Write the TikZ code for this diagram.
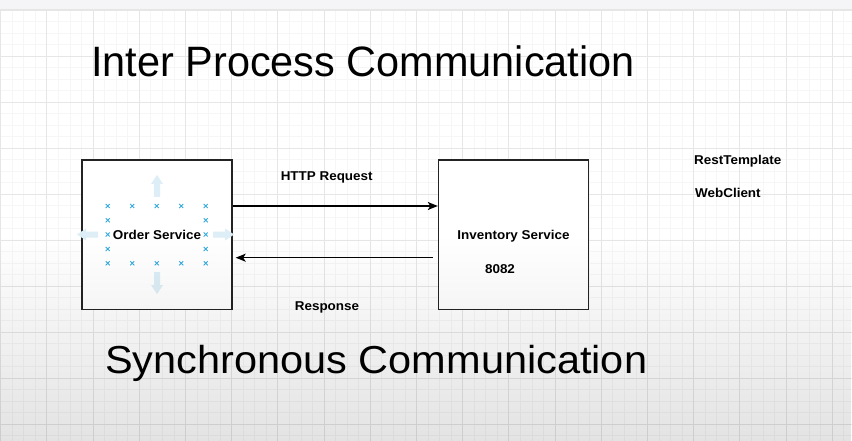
\documentclass[tikz,border=0pt]{standalone}
\usepackage{fontspec}
\setmainfont{Liberation Sans}
\usetikzlibrary{arrows.meta,calc,fadings}
\definecolor{hblue}{RGB}{52,170,222}
\definecolor{hoverc}{RGB}{221,238,246}
\definecolor{gmajor}{RGB}{230,230,230}
\definecolor{gminor}{RGB}{246,246,246}
\definecolor{topbar}{RGB}{245,245,247}
\definecolor{boxline}{RGB}{35,35,35}
\tikzfading[name=fadeup, top color=transparent!100, bottom color=transparent!0]
\newcommand\sx[2]{\scalebox{#1}[1]{#2}}
\newcommand\hmark[2]{\draw[handle, shift={(#1,#2)}] (-2,-2) -- (2,2) (-2,2) -- (2,-2);}
\tikzset{
  lbl/.style={font=\bfseries\fontsize{12.8}{15}\selectfont, inner sep=0pt},
  box/.style={lbl, draw=boxline, line width=1.4pt, fill=white, minimum width=150pt, minimum height=149pt, text depth=0pt},
  bigA/.style={font=\fontsize{42.5}{50}\selectfont, inner sep=0pt},
  bigB/.style={font=\fontsize{39}{46}\selectfont, inner sep=0pt},
  conn/.style={line width=1.2pt, -{Stealth[length=10pt,width=8pt,inset=2.5pt]}},
  handle/.style={draw=hblue, line width=0.9pt},
  hoverarrow/.style={fill=hoverc},
  minorline/.style={draw=gminor, line width=0.5pt},
  majorline/.style={draw=gmajor, line width=0.8pt}
}
\begin{document}
\begin{tikzpicture}[x=1pt,y=-1pt]
\useasboundingbox (0,0) rectangle (852,441);
\fill[white] (0,0) rectangle (852,441);
% grid
\foreach \i in {0,...,74} \draw[minorline] ({0.5+\i*11.55},9.5) -- ({0.5+\i*11.55},441);
\foreach \j in {0,...,38} \draw[minorline] (0,{10+\j*11.5}) -- (852,{10+\j*11.5});
\foreach \i in {0,...,18} \draw[majorline] ({0.5+\i*46.2},9.5) -- ({0.5+\i*46.2},441);
\foreach \j in {0,...,9} \draw[majorline] (0,{10+\j*46}) -- (852,{10+\j*46});
% top bar
\fill[topbar] (0,0) rectangle (852,9);
\draw[gmajor, line width=1pt] (0,9.5) -- (852,9.5);

% boxes
\node[box] (order) at (157,234.7) {};
\node[box] (inv) at (513.5,234.7) {\sx{1.05}{Inventory Service}};

% hover arrows around the selected shape
\fill[hoverarrow] (157,175) -- (163,184) -- (160,184) -- (160,197) -- (154,197) -- (154,184) -- (151,184) -- cycle;
\fill[hoverarrow] (157,294) -- (163,285) -- (160,285) -- (160,272) -- (154,272) -- (154,285) -- (151,285) -- cycle;
\fill[hoverarrow] (77,234.5) -- (86,228.5) -- (86,231.5) -- (98,231.5) -- (98,237.5) -- (86,237.5) -- (86,240.5) -- cycle;
\fill[hoverarrow] (234,234.5) -- (225,228.5) -- (225,231.5) -- (213,231.5) -- (213,237.5) -- (225,237.5) -- (225,240.5) -- cycle;

% selection handles
\foreach \x in {107.7,132.2,156.7,181.2,205.7} {\hmark{\x}{206}\hmark{\x}{263.3}}
\foreach \y in {220.3,234.5,249} {\hmark{107.7}{\y}\hmark{205.7}{\y}}

\node[lbl] (ordertxt) at (order.center) [text depth=0pt] {\sx{1.05}{Order Service}};

% connectors
\draw[conn] ($(order.east)+(0,-28.7)$) -- ($(inv.west)+(0,-28.7)$);
\draw[conn] ($(inv.west)+(-5,23)$) -- ($(order.east)+(3,23)$);

% labels
\node[lbl, anchor=base] (port) at (500,273.3) {\sx{1.05}{8082}};
\node[lbl, anchor=base] (httplbl) at (326.7,181) {\sx{1.05}{HTTP Request}};
\node[lbl, anchor=base] (resplbl) at (327,310.7) {\sx{1.05}{Response}};
\node[lbl, anchor=base west] (rt) at (694,164.3) {\sx{1.05}{RestTemplate}};
\node[lbl, anchor=base west] (wc) at (695,197.3) {\sx{1.05}{WebClient}};
\node[bigA, anchor=base west] (title) at (91,76.7) {\sx{0.975}{Inter Process Communication}};
\node[bigB, anchor=base west] (sub) at (105,373.3) {\sx{1.064}{Synchronous Communication}};

% bottom shading overlay
\fill[black, path fading=fadeup, fill opacity=0.11] (0,235) rectangle (852,441);
\end{tikzpicture}
\end{document}
